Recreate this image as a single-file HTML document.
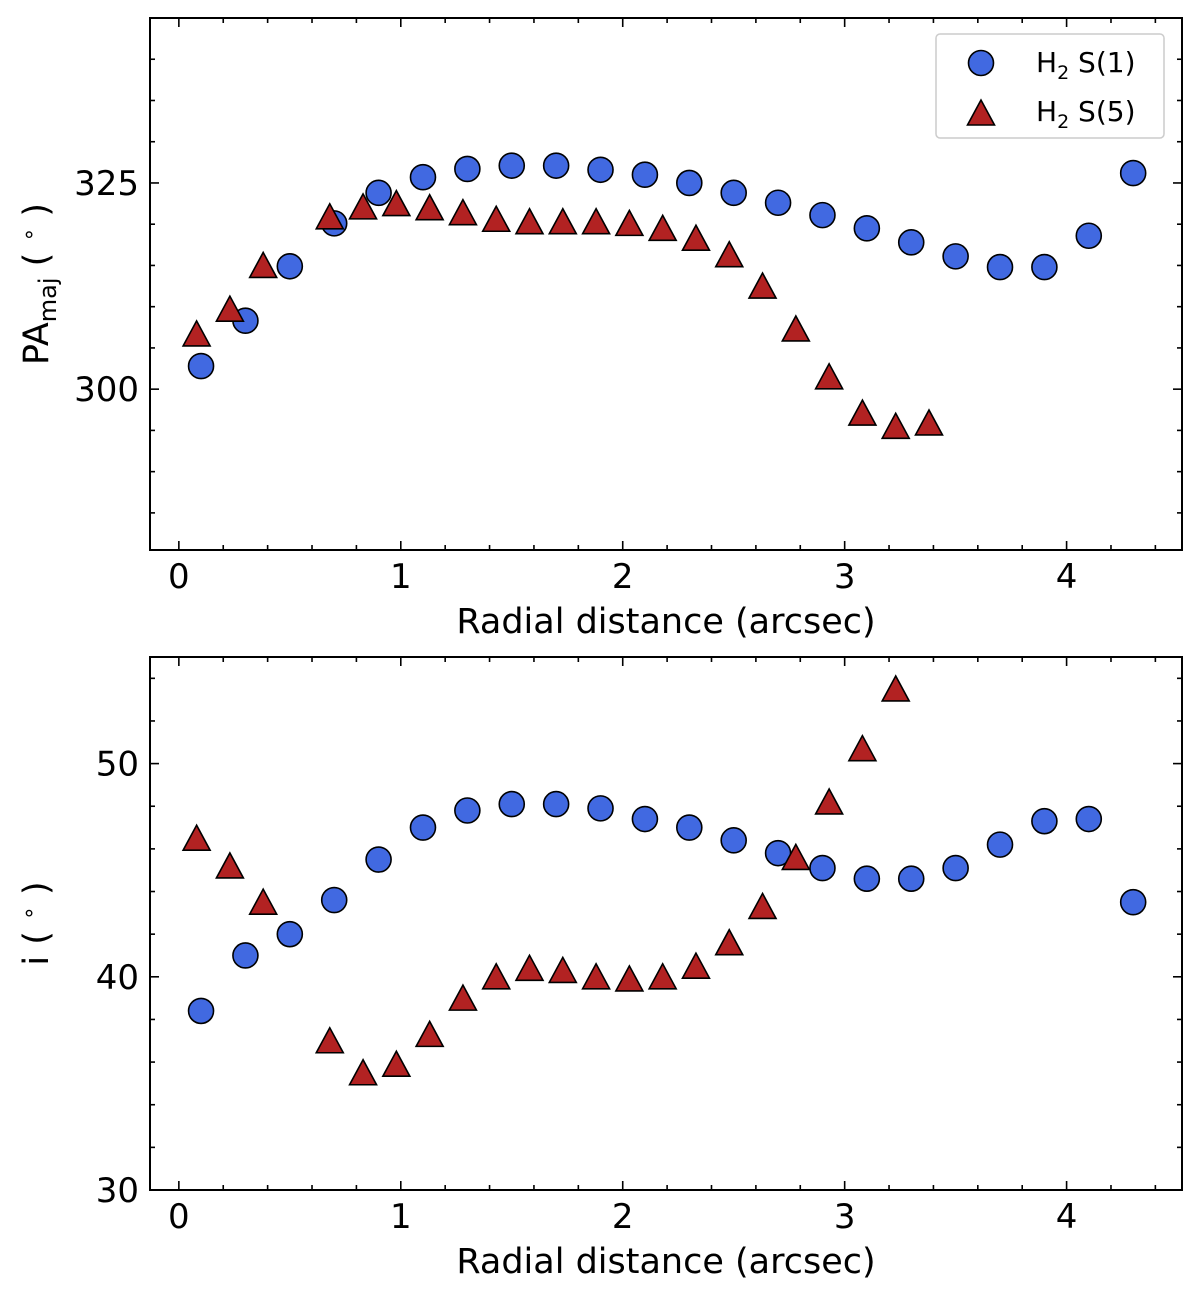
<!DOCTYPE html>
<html><head><meta charset="utf-8"><style>
html,body{margin:0;padding:0;background:#fff}
svg{display:block;font-family:"DejaVu Sans","Liberation Sans",sans-serif}
</style></head><body>
<svg id="fig" width="1200" height="1290" viewBox="0 0 1200 1290"></svg>
<script>
const circX=[0.1,0.3,0.5,0.7,0.9,1.1,1.3,1.5,1.7,1.9,2.1,2.3,2.5,2.7,2.9,3.1,3.3,3.5,3.7,3.9,4.1,4.3];
const circPA=[302.8,308.3,314.9,320.1,323.8,325.7,326.7,327.1,327.1,326.6,326.0,325.0,323.8,322.6,321.1,319.5,317.8,316.1,314.8,314.8,318.6,326.2];
const circInc=[38.4,41.0,42.0,43.6,45.5,47.0,47.8,48.1,48.1,47.9,47.4,47.0,46.4,45.8,45.1,44.6,44.6,45.1,46.2,47.3,47.4,43.5];
const triX=[0.08,0.23,0.38,0.68,0.83,0.98,1.13,1.28,1.43,1.58,1.73,1.88,2.03,2.18,2.33,2.48,2.63,2.78,2.93,3.08,3.23,3.38];
const triPA=[306.7,309.7,315.0,320.9,322.1,322.5,322.0,321.4,320.6,320.3,320.3,320.3,320.1,319.5,318.3,316.3,312.5,307.3,301.5,297.1,295.5,295.9];
const triXInc=[0.08,0.23,0.38,0.68,0.83,0.98,1.13,1.28,1.43,1.58,1.73,1.88,2.03,2.18,2.33,2.48,2.63,2.78,2.93,3.08,3.23];
const triInc=[46.5,45.2,43.5,37.0,35.5,35.9,37.3,39.0,40.0,40.4,40.3,40.0,39.9,40.0,40.5,41.6,43.3,45.6,48.2,50.7,53.5];
const xTicks=[0,1,2,3,4];
const paTicks=[300,325];
const incTicks=[30,40,50];

const NS="http://www.w3.org/2000/svg";
const svg=document.getElementById('fig');
function mk(tag,attrs,parent){const e=document.createElementNS(NS,tag);for(const k in attrs)e.setAttribute(k,attrs[k]);(parent||svg).appendChild(e);return e;}

function panel(name,top,bottom,ymin,ymax,yTicks,yMinorStep,ylabelHTML,cx,cy,tx,ty){
  const L=150,R=1182,xmin=-0.13,xmax=4.52;
  const X=v=>L+(v-xmin)/(xmax-xmin)*(R-L);
  const Y=v=>bottom-(v-ymin)/(ymax-ymin)*(bottom-top);
  const g=mk('g',{});
  
  
  for(let v=0;v<=4.41;v+=0.2){
    const isMajor=Math.abs(v-Math.round(v))<1e-6;
    const len=isMajor?9:5;
    mk('line',{x1:X(v),x2:X(v),y1:bottom,y2:bottom-len,stroke:'#000','stroke-width':1.6},g);
    mk('line',{x1:X(v),x2:X(v),y1:top,y2:top+len,stroke:'#000','stroke-width':1.6},g);
  }
  let start=Math.ceil(ymin/yMinorStep)*yMinorStep;
  for(let v=start;v<=ymax;v+=yMinorStep){
    const isMajor=yTicks.some(t=>Math.abs(t-v)<1e-6);
    const len=isMajor?9:5;
    mk('line',{x1:L,x2:L+len,y1:Y(v),y2:Y(v),stroke:'#000','stroke-width':1.6},g);
    mk('line',{x1:R,x2:R-len,y1:Y(v),y2:Y(v),stroke:'#000','stroke-width':1.6},g);
  }
  xTicks.forEach(t=>{const e=mk('text',{x:X(t),y:bottom+38,'text-anchor':'middle','font-size':34},g);e.textContent=t;
    });
  yTicks.forEach(t=>{const e=mk('text',{x:L-11,y:Y(t)+12,'text-anchor':'end','font-size':34},g);e.textContent=t;
    });
  const xl=mk('text',{x:(L+R)/2,y:bottom+83,'text-anchor':'middle','font-size':35},g);xl.textContent='Radial distance (arcsec)';
  
  const yl=mk('text',{x:0,y:0,'text-anchor':'middle','font-size':35,transform:`translate(48,${(top+bottom)/2}) rotate(-90)`},g);
  yl.innerHTML=ylabelHTML;
  
  cx.forEach((v,i)=>{const c=mk('circle',{cx:X(v),cy:Y(cy[i]),r:12.5,fill:'#4169e1',stroke:'#000','stroke-width':1.6},g);
    });
  tx.forEach((v,i)=>{const x=X(v),y=Y(ty[i]);
    const p=mk('polygon',{points:`${x},${y-13} ${x-13.5},${y+12} ${x+13.5},${y+12}`,fill:'#b22222',stroke:'#000','stroke-width':1.6},g);
    });
  mk('rect',{x:L,y:top,width:R-L,height:bottom-top,fill:'none',stroke:'#000','stroke-width':2},g);
}
panel('pa-panel',18,550,280.5,345,paTicks,5,'PA<tspan font-size="24" dy="8">maj</tspan><tspan dy="-8"> ( </tspan><tspan font-size="22" dy="-12">∘</tspan><tspan dy="12"> )</tspan>',circX,circPA,triX,triPA);
panel('inclination-panel',657,1190,30,55,incTicks,2,'i ( <tspan font-size="22" dy="-12">∘</tspan><tspan dy="12"> )</tspan>',circX,circInc,triXInc,triInc);

const lg=mk('g',{});


mk('rect',{x:936,y:34,width:228,height:104,rx:4,fill:'#fff',stroke:'#ccc','stroke-width':1.5},lg);
const lc=mk('circle',{cx:981,cy:63,r:12.5,fill:'#4169e1',stroke:'#000','stroke-width':1.6},lg);

const lp=mk('polygon',{points:'981,100 967.5,125 994.5,125',fill:'#b22222',stroke:'#000','stroke-width':1.6},lg);

const t1=mk('text',{x:1036,y:72,'font-size':28},lg);t1.innerHTML='H<tspan font-size="19" dy="7">2</tspan><tspan dy="-7"> S(1)</tspan>';

const t2=mk('text',{x:1036,y:121,'font-size':28},lg);t2.innerHTML='H<tspan font-size="19" dy="7">2</tspan><tspan dy="-7"> S(5)</tspan>';

</script>
</body></html>
